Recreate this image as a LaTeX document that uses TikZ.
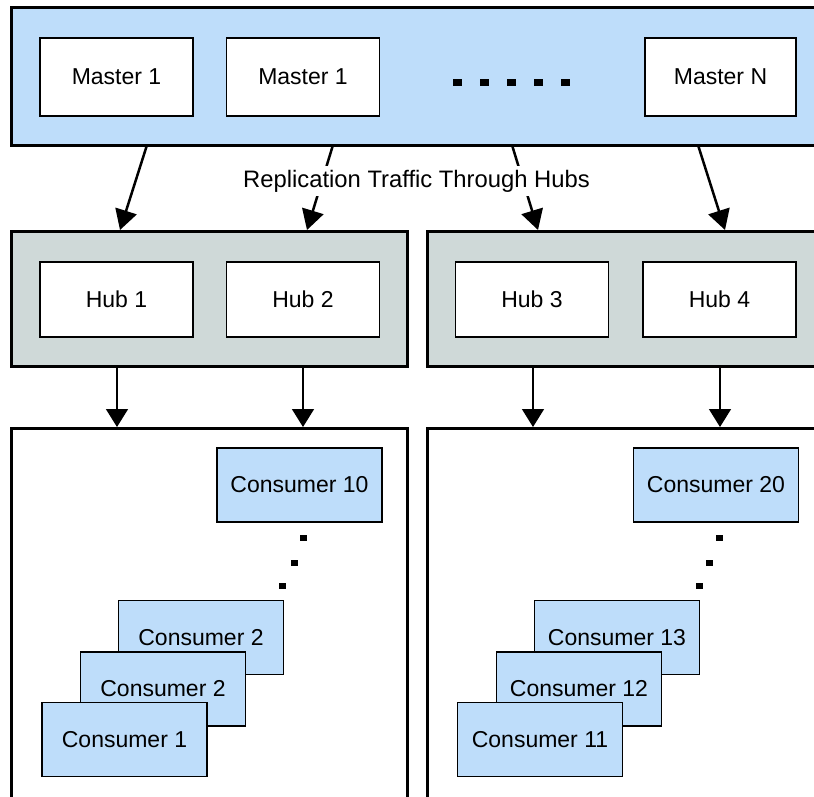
\documentclass[tikz,border=0pt]{standalone}
\usepackage{fontspec}
\setmainfont{Liberation Sans}
\usetikzlibrary{arrows.meta}
\definecolor{lblue}{RGB}{190,221,250}
\definecolor{hubgray}{RGB}{207,217,216}
\begin{document}
\begin{tikzpicture}[x=1pt,y=-1pt,
  every node/.style={font=\fontsize{23}{27}\selectfont},
  container/.style={draw, line width=3pt, anchor=north west, inner sep=0pt, outer sep=0pt},
  wbox/.style={draw, line width=1.2pt, fill=white, minimum width=153pt, minimum height=78pt, inner sep=0pt, outer sep=0pt},
  hbox/.style={wbox, minimum height=75pt},
  cbox/.style={draw, line width=1.2pt, fill=lblue, minimum width=165pt, minimum height=74pt, inner sep=0pt, outer sep=0pt},
  toparrow/.style={line width=2.5pt, -{Triangle[length=20pt,width=22pt]}},
  hubarrow/.style={line width=1.5pt, -{Triangle[length=18pt,width=22pt]}},
  dot/.style={fill=black}
]
\clip (0,0) rectangle (814,796);
\fill[white] (0,0) rectangle (814,796);

% containers
\node[container, fill=lblue, minimum width=829pt, minimum height=137.3pt] (masters) at (11,7.7) {};
\node[container, fill=hubgray, minimum width=396.5pt, minimum height=135pt] (hubsL) at (11,231) {};
\node[container, fill=hubgray, minimum width=420pt, minimum height=135pt] (hubsR) at (427.5,231) {};
\node[container, fill=white, minimum width=396.5pt, minimum height=400pt] (consL) at (11,428) {};
\node[container, fill=white, minimum width=420pt, minimum height=400pt] (consR) at (427.5,428) {};

% masters
\node[wbox] (m1) at (116.5,77) {Master 1};
\node[wbox] (m2) at (303,77) {Master 1};
\node[wbox, minimum width=151pt] (mN) at (720.5,77) {Master N};
\draw[line width=7pt, dash pattern=on 8.5pt off 18.5pt] (453,82.5) -- (570,82.5);

% hubs
\node[hbox] (h1) at (116.5,299.5) {Hub 1};
\node[hbox] (h2) at (303,299.5) {Hub 2};
\node[hbox] (h3) at (532,299.5) {Hub 3};
\node[hbox] (h4) at (719.5,299.5) {Hub 4};

% consumers left
\node[cbox] (c10) at (299.5,485) {Consumer 10};
\node[cbox] (c2b) at (201,637.5) {Consumer 2};
\node[cbox] (c2a) at (163,689) {Consumer 2};
\node[cbox] (c1) at (124.5,739.5) {Consumer 1};
% consumers right
\node[cbox] (c20) at (716,485) {Consumer 20};
\node[cbox] (c13) at (617,637.5) {Consumer 13};
\node[cbox] (c12) at (579,689) {Consumer 12};
\node[cbox] (c11) at (540,739.5) {Consumer 11};

% ellipsis dots
\foreach \x/\y in {303/538, 294/563, 282/586, 719/538, 709/563, 699/586}
  \fill[dot] (\x-3.5,\y-3) rectangle ++(7,6);

% replication arrows
\coordinate (s1) at (147,145);   \coordinate (e1) at (120,230);
\coordinate (s2) at (333,145);   \coordinate (e2) at (307,230);
\coordinate (s3) at (512,145);   \coordinate (e3) at (538,230);
\coordinate (s4) at (698,145);   \coordinate (e4) at (725,230);
\draw[toparrow] (s1) -- (e1);
\draw[toparrow] (s2) -- (e2);
\draw[toparrow] (s3) -- (e3);
\draw[toparrow] (s4) -- (e4);
\node[fill=white, inner xsep=2pt, inner ysep=3.5pt, font=\fontsize{23.8}{28}\selectfont] (lbl) at (416.5,181) {Replication Traffic Through Hubs};

% hub to consumer arrows
\coordinate (u1) at (117,366);  \coordinate (d1) at (117,427);
\coordinate (u2) at (303,366);  \coordinate (d2) at (303,427);
\coordinate (u3) at (533,366);  \coordinate (d3) at (533,427);
\coordinate (u4) at (720,366);  \coordinate (d4) at (720,427);
\draw[hubarrow] (u1) -- (d1);
\draw[hubarrow] (u2) -- (d2);
\draw[hubarrow] (u3) -- (d3);
\draw[hubarrow] (u4) -- (d4);
\end{tikzpicture}
\end{document}
